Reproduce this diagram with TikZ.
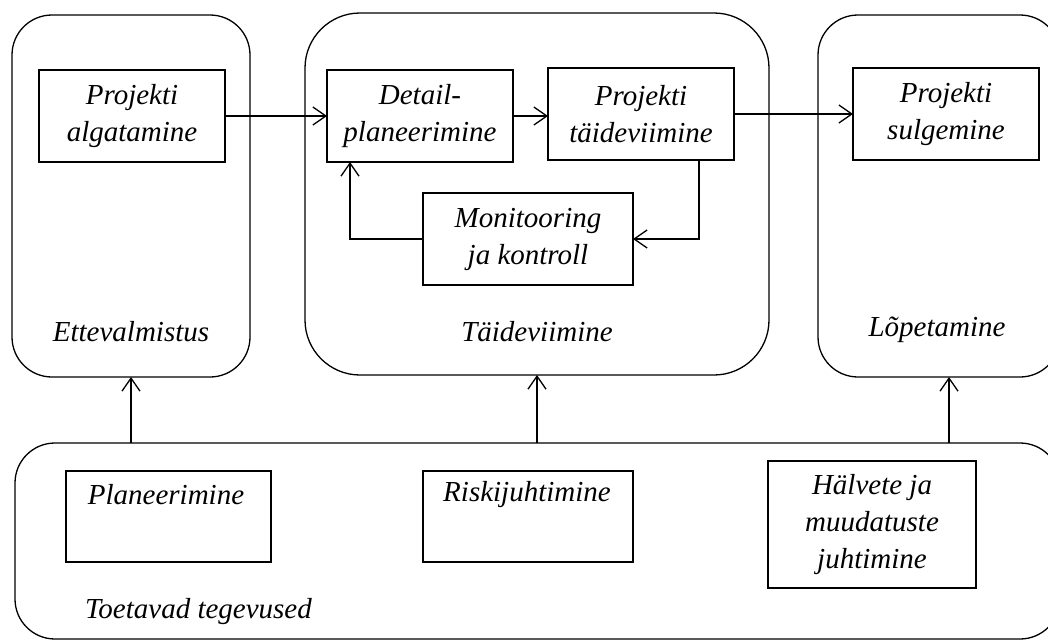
\documentclass[tikz,border=0pt]{standalone}
\usepackage{fontspec}
\setmainfont{Liberation Serif}
\usetikzlibrary{arrows.meta}
\begin{document}
\begin{tikzpicture}[x=1pt,y=-1pt,
  every node/.style={font=\fontsize{29}{37}\selectfont\itshape, inner sep=0pt, outer sep=0pt},
  stepbox/.style={draw, line width=1.3pt, rectangle},
  lbl/.style={align=center, text=black},
  flow/.style={line width=1.3pt, -{Straight Barb[length=13pt,width=18pt,line width=1.3pt]}}]
  \useasboundingbox (0,0) rectangle (1048,640);
  \clip (0,0) rectangle (1048,640);

  % phase containers
  \node[draw, line width=1.3pt, rounded corners=40pt, minimum width=238pt, minimum height=362pt] (ette) at (131,196) {};
  \node[draw, line width=1.3pt, rounded corners=55pt, minimum width=464pt, minimum height=362pt] (taidev) at (537,194) {};
  \node[draw, line width=1.3pt, rounded corners=40pt, minimum width=242pt, minimum height=362pt] (lopet) at (939,196) {};
  \node[draw, line width=1.3pt, rounded corners=40pt, minimum width=1045pt, minimum height=196pt] (toet) at (537.5,541) {};

  % process steps
  \node[stepbox, minimum width=186pt, minimum height=92pt, lbl] (alg) at (132,116) {Projekti\\algatamine};
  \node[stepbox, minimum width=186pt, minimum height=92pt, lbl] (det) at (420,116) {Detail-\\planeerimine};
  \node[stepbox, minimum width=186pt, minimum height=92pt, lbl] (tai) at (641,114) {Projekti\\täideviimine};
  \node[stepbox, minimum width=186pt, minimum height=92pt, lbl] (sul) at (946,114) {Projekti\\sulgemine};
  \node[stepbox, minimum width=210pt, minimum height=92pt, lbl] (mon) at (528,239) {Monitooring\\ja kontroll};

  % supporting activities
  \node[stepbox, minimum width=205pt, minimum height=91pt] (plan) at (168.5,516.5) {};
  \node[lbl] (planT) at (166,495) {Planeerimine};
  \node[stepbox, minimum width=210pt, minimum height=91pt] (risk) at (528,516.5) {};
  \node[lbl] (riskT) at (527,495) {Riskijuhtimine};
  \node[stepbox, minimum width=208pt, minimum height=127pt, lbl] (halv) at (872,524.5) {Hälvete ja\\muudatuste\\juhtimine};

  % container captions
  \node[lbl] (etteT) at (131,332) {Ettevalmistus};
  \node[lbl] (taidevT) at (537,332) {Täideviimine};
  \node[lbl] (lopetT) at (937,330) {Lõpetamine};
  \node[lbl, anchor=west] (toetT) at (85,612) {Toetavad tegevused};

  % main flow
  \draw[flow] (alg.east) -- (det.west);
  \draw[flow] (det.east) -- (det.east -| tai.west);
  \draw[flow] (tai.east) -- (tai.east -| sul.west);

  % monitoring loop
  \draw[flow] ([xshift=-35pt]tai.south east) |- (mon.east);
  \draw[flow] (mon.west) -| ([xshift=23pt]det.south west);

  % support feeding the phases
  \draw[flow] (ette.south |- toet.north) -- (ette.south);
  \draw[flow] (taidev.south |- toet.north) -- (taidev.south);
  \draw[flow] ([xshift=10pt]lopet.south |- toet.north) -- ([xshift=10pt]lopet.south);
\end{tikzpicture}
\end{document}
